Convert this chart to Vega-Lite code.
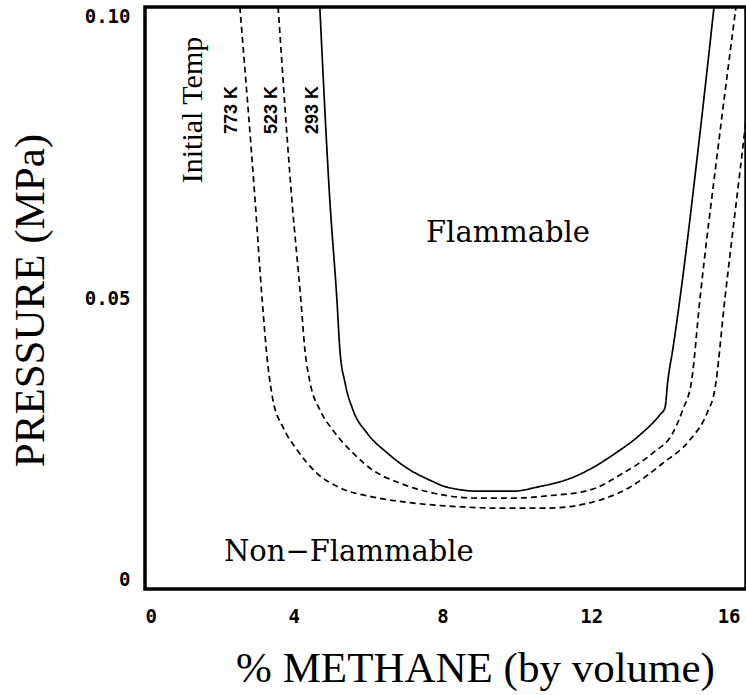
{
  "$schema": "https://vega.github.io/schema/vega-lite/v6.json",
  "autosize": "none",
  "width": 601,
  "height": 582,
  "padding": {"left": 145, "top": 7, "right": 0, "bottom": 106},
  "background": "white",
  "config": {
    "view": {"stroke": "black", "strokeWidth": 3.5},
    "axis": {"grid": false, "ticks": false, "domain": false, "tickSize": 0,
             "labelFont": "DejaVu Sans Mono", "labelFontWeight": "bold", "labelFontSize": 19, "labelColor": "black",
             "titleFont": "Liberation Serif", "titleFontWeight": "normal", "titleFontSize": 43, "titleColor": "black"}
  },
  "datasets": {
    "curves": [
      {"series": "293 K", "o": 1, "x": 4.70, "p": 0.1},
      {"series": "293 K", "o": 2, "x": 4.97, "p": 0.0668},
      {"series": "293 K", "o": 3, "x": 5.16, "p": 0.0497},
      {"series": "293 K", "o": 4, "x": 5.24, "p": 0.0411},
      {"series": "293 K", "o": 5, "x": 5.38, "p": 0.0354},
      {"series": "293 K", "o": 6, "x": 5.59, "p": 0.0308},
      {"series": "293 K", "o": 7, "x": 5.97, "p": 0.0268},
      {"series": "293 K", "o": 8, "x": 6.51, "p": 0.0234},
      {"series": "293 K", "o": 9, "x": 7.04, "p": 0.0208},
      {"series": "293 K", "o": 10, "x": 7.66, "p": 0.0187},
      {"series": "293 K", "o": 11, "x": 8.12, "p": 0.0175},
      {"series": "293 K", "o": 12, "x": 9.01, "p": 0.0168},
      {"series": "293 K", "o": 13, "x": 9.89, "p": 0.0168},
      {"series": "293 K", "o": 14, "x": 10.54, "p": 0.0175},
      {"series": "293 K", "o": 15, "x": 11.51, "p": 0.0192},
      {"series": "293 K", "o": 16, "x": 12.69, "p": 0.0235},
      {"series": "293 K", "o": 17, "x": 13.31, "p": 0.0265},
      {"series": "293 K", "o": 18, "x": 13.84, "p": 0.0299},
      {"series": "293 K", "o": 19, "x": 13.98, "p": 0.0311},
      {"series": "293 K", "o": 20, "x": 14.06, "p": 0.0359},
      {"series": "293 K", "o": 21, "x": 14.19, "p": 0.0411},
      {"series": "293 K", "o": 22, "x": 14.38, "p": 0.0497},
      {"series": "293 K", "o": 23, "x": 14.87, "p": 0.0754},
      {"series": "293 K", "o": 24, "x": 15.30, "p": 0.1},
      {"series": "523 K", "o": 1, "x": 3.58, "p": 0.1},
      {"series": "523 K", "o": 2, "x": 3.95, "p": 0.0668},
      {"series": "523 K", "o": 3, "x": 4.19, "p": 0.0497},
      {"series": "523 K", "o": 4, "x": 4.30, "p": 0.0411},
      {"series": "523 K", "o": 5, "x": 4.44, "p": 0.0354},
      {"series": "523 K", "o": 6, "x": 4.70, "p": 0.0308},
      {"series": "523 K", "o": 7, "x": 5.05, "p": 0.0273},
      {"series": "523 K", "o": 8, "x": 5.59, "p": 0.0234},
      {"series": "523 K", "o": 9, "x": 6.13, "p": 0.0204},
      {"series": "523 K", "o": 10, "x": 6.85, "p": 0.0182},
      {"series": "523 K", "o": 11, "x": 7.74, "p": 0.0165},
      {"series": "523 K", "o": 12, "x": 9.01, "p": 0.0156},
      {"series": "523 K", "o": 13, "x": 9.89, "p": 0.0156},
      {"series": "523 K", "o": 14, "x": 10.81, "p": 0.0160},
      {"series": "523 K", "o": 15, "x": 11.96, "p": 0.0170},
      {"series": "523 K", "o": 16, "x": 12.85, "p": 0.0199},
      {"series": "523 K", "o": 17, "x": 13.66, "p": 0.0234},
      {"series": "523 K", "o": 18, "x": 14.19, "p": 0.0268},
      {"series": "523 K", "o": 19, "x": 14.46, "p": 0.0308},
      {"series": "523 K", "o": 20, "x": 14.70, "p": 0.0359},
      {"series": "523 K", "o": 21, "x": 14.92, "p": 0.0497},
      {"series": "523 K", "o": 22, "x": 15.40, "p": 0.0754},
      {"series": "523 K", "o": 23, "x": 15.89, "p": 0.1},
      {"series": "773 K", "o": 1, "x": 2.55, "p": 0.1},
      {"series": "773 K", "o": 2, "x": 2.96, "p": 0.0668},
      {"series": "773 K", "o": 3, "x": 3.15, "p": 0.0497},
      {"series": "773 K", "o": 4, "x": 3.31, "p": 0.0381},
      {"series": "773 K", "o": 5, "x": 3.44, "p": 0.0325},
      {"series": "773 K", "o": 6, "x": 3.71, "p": 0.0278},
      {"series": "773 K", "o": 7, "x": 4.09, "p": 0.0239},
      {"series": "773 K", "o": 8, "x": 4.62, "p": 0.0199},
      {"series": "773 K", "o": 9, "x": 5.24, "p": 0.0174},
      {"series": "773 K", "o": 10, "x": 6.13, "p": 0.0158},
      {"series": "773 K", "o": 11, "x": 7.04, "p": 0.0149},
      {"series": "773 K", "o": 12, "x": 8.55, "p": 0.0141},
      {"series": "773 K", "o": 13, "x": 9.46, "p": 0.0139},
      {"series": "773 K", "o": 14, "x": 10.81, "p": 0.0139},
      {"series": "773 K", "o": 15, "x": 11.96, "p": 0.0148},
      {"series": "773 K", "o": 16, "x": 13.04, "p": 0.0175},
      {"series": "773 K", "o": 17, "x": 13.92, "p": 0.0216},
      {"series": "773 K", "o": 18, "x": 14.65, "p": 0.0256},
      {"series": "773 K", "o": 19, "x": 15.11, "p": 0.0302},
      {"series": "773 K", "o": 20, "x": 15.32, "p": 0.0342},
      {"series": "773 K", "o": 21, "x": 15.59, "p": 0.0497},
      {"series": "773 K", "o": 22, "x": 16.13, "p": 0.0789},
      {"series": "773 K", "o": 23, "x": 16.51, "p": 0.1}
    ],
    "templabels": [
      {"x": 2.34, "p": 0.0823, "t": "773 K"},
      {"x": 3.41, "p": 0.0823, "t": "523 K"},
      {"x": 4.52, "p": 0.0823, "t": "293 K"}
    ],
    "initial": [{"x": 1.29, "p": 0.0823, "t": "Initial Temp"}],
    "regions": [
      {"x": 9.76, "p": 0.0612, "t": "Flammable"},
      {"x": 5.48, "p": 0.0064, "t": "Non−Flammable"}
    ]
  },
  "layer": [
    {
      "data": {"name": "curves"},
      "mark": {"type": "line", "clip": true, "color": "black", "strokeWidth": 1.7, "interpolate": "monotone"},
      "encoding": {
        "x": {"field": "x", "type": "quantitative",
              "scale": {"domain": [0, 16.16], "nice": false, "zero": false},
              "axis": {"values": [0, 4, 8, 12, 16], "labelFlush": 10, "labelPadding": 18,
                       "title": "% METHANE (by volume)", "titleX": 330, "titleY": 79, "titleBaseline": "middle"}},
        "y": {"field": "p", "type": "quantitative",
              "scale": {"domain": [0, 0.1], "nice": false},
              "axis": {"values": [0, 0.05, 0.1], "labelFlush": true, "labelPadding": 15,
                       "labelExpr": "datum.value == 0 ? '0' : format(datum.value, '.2f')",
                       "title": "PRESSURE (MPa)", "titleX": -115, "titleY": 293, "titleBaseline": "middle", "titleAngle": -90}},
        "detail": {"field": "series"},
        "order": {"field": "o"},
        "strokeDash": {"field": "series", "type": "nominal",
                       "scale": {"domain": ["293 K", "523 K", "773 K"], "range": [[1, 0], [6, 4], [6, 4]]},
                       "legend": null}
      }
    },
    {
      "data": {"name": "templabels"},
      "mark": {"type": "text", "angle": 270, "font": "Liberation Sans", "fontWeight": "bold", "fontSize": 18, "color": "black", "baseline": "middle", "align": "center"},
      "encoding": {
        "x": {"field": "x", "type": "quantitative"},
        "y": {"field": "p", "type": "quantitative"},
        "text": {"field": "t"}
      }
    },
    {
      "data": {"name": "initial"},
      "mark": {"type": "text", "angle": 270, "font": "Liberation Serif", "fontSize": 30, "color": "black", "baseline": "middle", "align": "center"},
      "encoding": {
        "x": {"field": "x", "type": "quantitative"},
        "y": {"field": "p", "type": "quantitative"},
        "text": {"field": "t"}
      }
    },
    {
      "data": {"name": "regions"},
      "mark": {"type": "text", "font": "DejaVu Serif", "fontSize": 29, "color": "black", "baseline": "middle", "align": "center"},
      "encoding": {
        "x": {"field": "x", "type": "quantitative"},
        "y": {"field": "p", "type": "quantitative"},
        "text": {"field": "t"}
      }
    }
  ]
}
